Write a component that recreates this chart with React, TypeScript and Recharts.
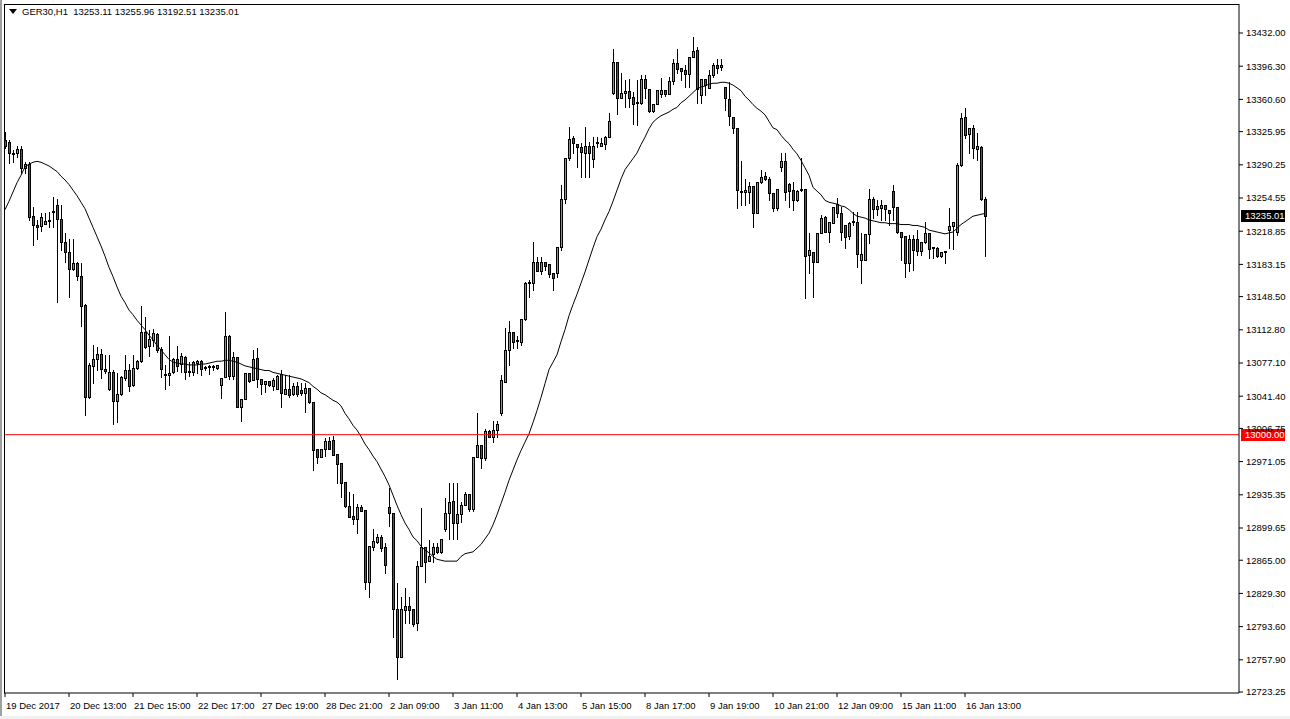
import React from 'react';
import { ComposedChart, Bar, Line, XAxis, YAxis, ReferenceLine } from 'recharts';

// GER30 H1 candles, 19 Dec 2017 -> 16 Jan 2018
const symbol = 'GER30';
const period = 'H1';

const timeLabels = [
  '19 Dec 2017', '20 Dec 13:00', '21 Dec 15:00', '22 Dec 17:00', '27 Dec 19:00', '28 Dec 21:00',
  '2 Jan 09:00', '3 Jan 11:00', '4 Jan 13:00', '5 Jan 15:00', '8 Jan 17:00', '9 Jan 19:00',
  '10 Jan 21:00', '12 Jan 09:00', '15 Jan 11:00', '16 Jan 13:00',
];
const labelIndex = [0, 16, 32, 48, 64, 80, 96, 112, 128, 144, 160, 176, 192, 208, 224, 240];

const priceTicks = [
  13432.0, 13396.3, 13360.6, 13325.95, 13290.25, 13254.55, 13218.85, 13183.15, 13148.5, 13112.8,
  13077.1, 13041.4, 13006.75, 12971.05, 12935.35, 12899.65, 12865.0, 12829.3, 12793.6, 12757.9, 12723.25,
];

const level = 13000;

const open = [
  13317, 13315, 13303, 13303, 13307, 13287, 13291, 13235, 13225, 13224,
  13227, 13231, 13241, 13247, 13232, 13207, 13197, 13178, 13185, 13171,
  13139, 13041, 13074, 13081, 13087, 13071, 13049, 13067, 13036, 13044,
  13061, 13070, 13053, 13072, 13079, 13110, 13095, 13102, 13108, 13092,
  13064, 13064, 13067, 13081, 13076, 13084, 13067, 13067, 13077, 13079,
  13072, 13073, 13073, 13072, 13053, 13062, 13106, 13063, 13084, 13030,
  13038, 13066, 13059, 13082, 13060, 13055, 13058, 13052, 13049, 13065,
  13044, 13049, 13044, 13052, 13048, 13045, 13050, 13035, 12985, 12976,
  12985, 12993, 12994, 12979, 12970, 12949, 12923, 12913, 12909, 12922,
  12919, 12842, 12879, 12885, 12890, 12879, 12922, 12916, 12813, 12761,
  12811, 12816, 12813, 12797, 12859, 12879, 12864, 12872, 12879, 12874,
  12899, 12916, 12929, 12905, 12915, 12924, 12936, 12920, 12976, 12989,
  12975, 13004, 12997, 13005, 13023, 13057, 13091, 13110, 13101, 13100,
  13124, 13163, 13163, 13186, 13176, 13186, 13184, 13174, 13174, 13202,
  13253, 13298, 13319, 13313, 13309, 13303, 13310, 13296, 13314, 13311,
  13313, 13320, 13368, 13401, 13362, 13368, 13370, 13363, 13357, 13357,
  13383, 13372, 13348, 13356, 13366, 13371, 13366, 13380, 13400, 13394,
  13392, 13388, 13406, 13414, 13365, 13383, 13373, 13387, 13398, 13395,
  13374, 13361, 13342, 13330, 13261, 13261, 13261, 13268, 13238, 13272,
  13278, 13275, 13260, 13244, 13288, 13294, 13270, 13263, 13252, 13263,
  13264, 13193, 13197, 13186, 13217, 13234, 13218, 13228, 13248, 13238,
  13225, 13214, 13229, 13229, 13188, 13188, 13216, 13253, 13243, 13244,
  13247, 13242, 13262, 13245, 13218, 13214, 13185, 13210, 13210, 13198,
  13207, 13217, 13201, 13201, 13192, 13197, 13220, 13224, 13218, 13290,
  13342, 13323, 13330, 13307, 13309, 13253.11,
];

const high = [
  13326, 13317, 13306, 13310, 13310, 13293, 13293, 13245, 13231, 13238,
  13238, 13239, 13256, 13254, 13247, 13217, 13210, 13210, 13186, 13185,
  13141, 13077, 13097, 13094, 13092, 13086, 13086, 13070, 13066, 13063,
  13086, 13076, 13086, 13080, 13138, 13127, 13113, 13114, 13109, 13094,
  13075, 13106, 13082, 13095, 13088, 13085, 13078, 13079, 13080, 13080,
  13074, 13075, 13075, 13075, 13061, 13132, 13107, 13089, 13084, 13038,
  13066, 13066, 13091, 13093, 13060, 13058, 13058, 13061, 13064, 13070,
  13064, 13064, 13056, 13057, 13056, 13056, 13050, 13035, 12985, 12985,
  12996, 12998, 12999, 12979, 12970, 12949, 12938, 12936, 12926, 12924,
  12919, 12880, 12899, 12893, 12892, 12884, 12943, 12916, 12840, 12825,
  12835, 12825, 12813, 12864, 12921, 12879, 12887, 12884, 12884, 12888,
  12932, 12948, 12948, 12948, 12928, 12938, 12936, 12976, 13023, 12989,
  13006, 13005, 13015, 13015, 13064, 13115, 13122, 13110, 13106, 13124,
  13164, 13166, 13207, 13191, 13191, 13186, 13184, 13174, 13202, 13269,
  13298, 13331, 13321, 13313, 13314, 13331, 13315, 13320, 13320, 13319,
  13321, 13346, 13415, 13401, 13389, 13382, 13383, 13369, 13382, 13387,
  13387, 13372, 13356, 13371, 13384, 13371, 13385, 13404, 13415, 13394,
  13398, 13406, 13428, 13417, 13383, 13383, 13392, 13400, 13404, 13404,
  13374, 13379, 13342, 13330, 13294, 13275, 13272, 13268, 13272, 13285,
  13282, 13277, 13260, 13264, 13303, 13303, 13271, 13272, 13263, 13298,
  13264, 13217, 13197, 13217, 13236, 13235, 13229, 13245, 13255, 13245,
  13225, 13229, 13239, 13239, 13217, 13216, 13264, 13256, 13252, 13252,
  13247, 13242, 13269, 13245, 13218, 13214, 13215, 13215, 13220, 13207,
  13229, 13217, 13202, 13202, 13197, 13198, 13244, 13229, 13292, 13346,
  13351, 13330, 13333, 13324, 13311, 13255.96,
];

const low = [
  13308, 13292, 13293, 13299, 13281, 13281, 13231, 13204, 13210, 13219,
  13227, 13223, 13223, 13143, 13199, 13186, 13148, 13177, 13166, 13117,
  13021, 13039, 13056, 13070, 13061, 13066, 13048, 13011, 13014, 13043,
  13059, 13047, 13052, 13071, 13078, 13093, 13085, 13095, 13089, 13062,
  13049, 13053, 13066, 13068, 13067, 13060, 13063, 13064, 13066, 13064,
  13070, 13065, 13070, 13071, 13039, 13062, 13060, 13060, 13030, 13015,
  13038, 13057, 13059, 13051, 13044, 13046, 13052, 13048, 13049, 13030,
  13044, 13041, 13043, 13042, 13043, 13024, 13034, 12962, 12970, 12976,
  12977, 12985, 12978, 12948, 12933, 12922, 12912, 12904, 12894, 12918,
  12834, 12825, 12876, 12884, 12875, 12851, 12902, 12782, 12737, 12761,
  12797, 12797, 12794, 12790, 12859, 12842, 12864, 12863, 12873, 12873,
  12896, 12888, 12888, 12888, 12906, 12924, 12918, 12918, 12976, 12964,
  12973, 12997, 12992, 12998, 13021, 13057, 13075, 13093, 13093, 13096,
  13123, 13148, 13156, 13176, 13173, 13177, 13170, 13156, 13170, 13199,
  13249, 13295, 13303, 13288, 13277, 13277, 13277, 13288, 13309, 13310,
  13307, 13320, 13366, 13345, 13362, 13352, 13352, 13334, 13333, 13356,
  13362, 13347, 13347, 13356, 13363, 13364, 13366, 13377, 13389, 13382,
  13374, 13374, 13406, 13357, 13357, 13365, 13373, 13385, 13389, 13392,
  13349, 13333, 13324, 13244, 13247, 13247, 13249, 13223, 13238, 13271,
  13274, 13252, 13241, 13242, 13284, 13252, 13245, 13242, 13251, 13262,
  13147, 13174, 13148, 13186, 13217, 13218, 13207, 13228, 13234, 13209,
  13201, 13211, 13225, 13180, 13163, 13188, 13206, 13233, 13236, 13231,
  13231, 13225, 13231, 13217, 13188, 13170, 13176, 13177, 13193, 13193,
  13206, 13190, 13190, 13191, 13191, 13185, 13201, 13200, 13215, 13289,
  13319, 13303, 13298, 13295, 13252, 13192.51,
];

const close = [
  13310, 13303, 13302, 13307, 13287, 13291, 13234, 13225, 13223, 13234,
  13230, 13230, 13240, 13232, 13207, 13197, 13178, 13185, 13171, 13138,
  13041, 13075, 13081, 13087, 13071, 13068, 13067, 13036, 13044, 13062,
  13070, 13052, 13072, 13079, 13110, 13094, 13103, 13109, 13091, 13071,
  13065, 13066, 13081, 13074, 13085, 13067, 13068, 13078, 13079, 13071,
  13073, 13074, 13074, 13075, 13061, 13106, 13063, 13084, 13030, 13038,
  13066, 13058, 13081, 13060, 13055, 13058, 13053, 13059, 13063, 13045,
  13049, 13043, 13052, 13044, 13045, 13050, 13035, 12984, 12976, 12985,
  12993, 12985, 12978, 12968, 12948, 12923, 12912, 12909, 12922, 12918,
  12842, 12880, 12886, 12890, 12878, 12860, 12916, 12813, 12761, 12813,
  12816, 12811, 12796, 12859, 12879, 12863, 12870, 12879, 12874, 12888,
  12916, 12928, 12905, 12915, 12924, 12936, 12920, 12976, 12989, 12975,
  13004, 12997, 13005, 13011, 13059, 13091, 13110, 13100, 13102, 13124,
  13163, 13164, 13186, 13176, 13186, 13181, 13173, 13168, 13202, 13253,
  13298, 13318, 13314, 13309, 13304, 13310, 13303, 13311, 13315, 13314,
  13320, 13337, 13401, 13362, 13368, 13370, 13362, 13356, 13358, 13383,
  13373, 13348, 13356, 13371, 13371, 13366, 13380, 13400, 13393, 13391,
  13388, 13406, 13413, 13372, 13383, 13376, 13387, 13398, 13394, 13398,
  13362, 13343, 13330, 13263, 13262, 13263, 13267, 13238, 13272, 13277,
  13275, 13260, 13244, 13264, 13294, 13261, 13262, 13252, 13262, 13264,
  13192, 13199, 13186, 13217, 13233, 13218, 13229, 13245, 13238, 13218,
  13213, 13228, 13230, 13194, 13194, 13216, 13253, 13243, 13246, 13247,
  13243, 13238, 13245, 13218, 13213, 13185, 13210, 13199, 13198, 13207,
  13217, 13200, 13202, 13192, 13197, 13198, 13224, 13229, 13290, 13341,
  13322, 13330, 13308, 13310, 13254, 13235.01,
];

// moving average line as drawn on the chart
const ma = [
  13242, 13251, 13261, 13271, 13279, 13288, 13291, 13293, 13294, 13293,
  13291, 13289, 13286, 13283, 13278, 13274, 13269, 13263, 13257, 13250,
  13243, 13233, 13223, 13213, 13203, 13192, 13180, 13170, 13159, 13149,
  13142, 13134, 13129, 13123, 13118, 13113, 13107, 13102, 13096, 13091,
  13086, 13081, 13078, 13077, 13076, 13076, 13075, 13075, 13075, 13076,
  13076, 13077, 13078, 13079, 13079, 13080, 13080, 13079, 13078, 13076,
  13074, 13073, 13072, 13071, 13070, 13069, 13069, 13067, 13066, 13065,
  13064, 13063, 13062, 13061, 13060, 13058, 13056, 13052, 13049, 13045,
  13043, 13040, 13037, 13035, 13031, 13023, 13017, 13010, 13005, 12998,
  12990, 12984, 12977, 12971, 12963, 12955, 12946, 12935, 12924, 12914,
  12905, 12898, 12890, 12886, 12880, 12876, 12873, 12869, 12866, 12865,
  12864, 12864, 12864, 12864, 12869, 12872, 12873, 12874, 12878, 12882,
  12888, 12894, 12903, 12914, 12926, 12938, 12951, 12962, 12973, 12983,
  12992, 13001, 13013, 13026, 13040, 13055, 13070, 13078, 13086, 13100,
  13113, 13128, 13140, 13151, 13163, 13175, 13188, 13201, 13213, 13221,
  13231, 13240, 13251, 13263, 13275, 13285, 13291, 13297, 13303, 13312,
  13320, 13329, 13336, 13340, 13343, 13345, 13347, 13350, 13352, 13357,
  13360, 13364, 13368, 13372, 13374, 13375, 13377, 13378, 13378, 13379,
  13379, 13378, 13376, 13373, 13370, 13364, 13360, 13355, 13351, 13348,
  13344, 13337, 13330, 13328, 13322, 13317, 13313, 13307, 13302, 13295,
  13287, 13279, 13266, 13262, 13258, 13252, 13250, 13249, 13248, 13246,
  13245, 13242, 13238, 13235, 13234, 13233, 13231, 13230, 13229, 13228,
  13228, 13227, 13227, 13227, 13226, 13226, 13226, 13225, 13225, 13224,
  13223, 13220, 13219, 13218, 13217, 13216, 13217, 13218, 13222, 13226,
  13229, 13232, 13235, 13236, 13237, 13238,
];

const FONT = '"Liberation Sans", Arial, sans-serif';
const UP = '#2bd52b';
const DOWN = '#d42020';

const data = open.map((o, i) => ({
  i,
  open: o,
  high: high[i],
  low: low[i],
  close: close[i],
  range: [low[i], high[i]],
  ma: ma[i],
}));

const last = open.length - 1;

function Candle(props: any) {
  const { x, y, width, height, payload } = props;
  if (x == null || y == null) return null;
  const { open: o, high: h, low: l, close: c } = payload;
  const top = Math.min(y, y + height);
  const hgt = Math.abs(height);
  const cx = Math.round(x + width / 2);
  const span = h - l;
  const py = (v: number) => (span > 0 ? top + ((h - v) / span) * hgt : top);
  const bTop = Math.round(py(Math.max(o, c)));
  const bBot = Math.round(py(Math.min(o, c)));
  const up = c >= o;
  return (
    <g>
      <line x1={cx + 0.5} x2={cx + 0.5} y1={Math.round(top)} y2={Math.round(top + hgt) + 1} stroke="#000" strokeWidth={1} />
      {bBot - bTop < 1 ? (
        <line x1={cx - 1} x2={cx + 2} y1={bTop + 0.5} y2={bTop + 0.5} stroke="#000" strokeWidth={1} />
      ) : (
        <rect x={cx - 0.5} y={bTop + 0.5} width={2} height={bBot - bTop} fill={up ? UP : DOWN} stroke="#000" strokeWidth={1} />
      )}
    </g>
  );
}

function DateTick({ x, y, payload }: any) {
  const k = labelIndex.indexOf(payload.value);
  return (
    <text x={x + 1} y={y} dy="0.71em" fontSize={9.5} fontFamily={FONT} fill="#000">
      {timeLabels[k]}
    </text>
  );
}

function PriceTag({ viewBox, fill, text }: any) {
  if (!viewBox) return null;
  const x = viewBox.x + viewBox.width + 2;
  const y = Math.round(viewBox.y);
  return (
    <g>
      <rect x={x} y={y - 6} width={44} height={12} fill={fill} />
      <text x={x + 4} y={y} dy="0.36em" fill="#fff" fontSize={9.5} fontFamily={FONT}>{text}</text>
    </g>
  );
}

export default function App() {
  return (
    <div style={{ position: 'relative', width: 1290, height: 719, background: '#fff', overflow: 'hidden' }}>
      <style>{'body{margin:0}'}</style>
      <ComposedChart width={1290} height={719} data={data} margin={{ top: 4, right: 0, bottom: 0, left: 4 }}>
        <XAxis
          dataKey="i"
          type="number"
          domain={[-0.25, 308.5]}
          allowDataOverflow
          ticks={labelIndex}
          interval={0}
          height={26}
          tickSize={4}
          tickMargin={5}
          stroke="#000"
          tick={<DateTick />}
        />
        <YAxis
          orientation="right"
          type="number"
          domain={[12722.2, 13463.2]}
          allowDataOverflow
          ticks={priceTicks}
          interval={0}
          width={51}
          tickSize={4}
          tickMargin={3}
          stroke="#000"
          tick={{ fontSize: 9.5, fill: '#000', fontFamily: FONT }}
          tickFormatter={(v: number) => v.toFixed(2)}
        />
        <Bar dataKey="range" barSize={4} isAnimationActive={false} shape={(p: any) => <Candle {...p} />} />
        <Line dataKey="ma" type="linear" stroke="#000" strokeWidth={1} dot={false} activeDot={false} isAnimationActive={false} />
        <ReferenceLine y={level} stroke="#ff0000" strokeWidth={1} label={<PriceTag fill="#ff0000" text={level.toFixed(2)} />} />
        <ReferenceLine y={close[last]} stroke="transparent" label={<PriceTag fill="#000" text={close[last].toFixed(2)} />} />
      </ComposedChart>
      <div style={{ position: 'absolute', left: 4, top: 4, width: 1235, height: 689, borderTop: '1px solid #000', borderLeft: '1px solid #000', pointerEvents: 'none', boxSizing: 'border-box' }} />
      <div style={{ position: 'absolute', left: 0, top: 0, width: 2, height: 719, background: '#a0a0a0' }} />
      <div style={{ position: 'absolute', left: 0, bottom: 0, width: 1290, height: 3, background: '#f0f0f0' }} />
      <div style={{ position: 'absolute', left: 9, top: 6, display: 'flex', alignItems: 'center', fontFamily: FONT, fontSize: 9.5, color: '#000', whiteSpace: 'pre' }}>
        <svg width={8} height={5} style={{ marginRight: 5 }}>
          <polygon points="0,0 8,0 4,5" fill="#000" />
        </svg>
        <span>{`${symbol},${period}  ${open[last].toFixed(2)} ${high[last].toFixed(2)} ${low[last].toFixed(2)} ${close[last].toFixed(2)}`}</span>
      </div>
    </div>
  );
}
